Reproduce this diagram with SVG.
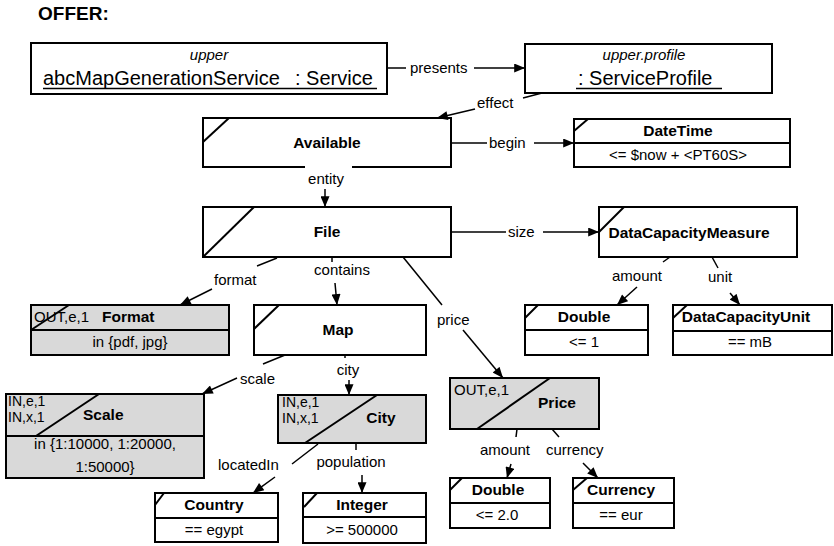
<svg xmlns="http://www.w3.org/2000/svg" width="834" height="546" viewBox="0 0 834 546">
<defs>
<marker id="ah" viewBox="0 0 12 10" refX="12" refY="5" markerWidth="12" markerHeight="9" markerUnits="userSpaceOnUse" orient="auto">
<path d="M0,0 L12,5 L0,10 z" fill="#000"/>
</marker>
<style>
text{font-family:"Liberation Sans",Arial,sans-serif;fill:#000}
.box{fill:#fff;stroke:#000;stroke-width:2}
.grey{fill:#d9d9d9;stroke:#000;stroke-width:2}
.ln{stroke:#000;stroke-width:2;fill:none}
.c{stroke:#000;stroke-width:1.5;fill:none}
.a{stroke:#000;stroke-width:1.5;fill:none;marker-end:url(#ah)}
.t{font-size:15.5px;font-weight:bold}
.r{font-size:15px}
.s{font-size:14px}
.l{font-size:15px}
.i{font-size:15px;font-style:italic}
.big{font-size:20px}
.m{text-anchor:middle}
</style>
</defs>
<text x="38" y="20" style="font-size:19px;font-weight:bold">OFFER:</text>

<g id="service">
<rect class="box" x="31" y="43" width="356" height="51"/>
<text class="i m" x="209" y="60">upper</text>
<text class="big" x="43" y="85">abcMapGenerationService</text>
<text class="big" x="295" y="85">: Service</text>
<line x1="43" y1="88.5" x2="377" y2="88.5" stroke="#000" stroke-width="1.3"/>
</g>
<g id="profile">
<rect class="box" x="525" y="44" width="247" height="49"/>
<text class="i m" x="644" y="60">upper.profile</text>
<text class="big" x="578" y="85">: ServiceProfile</text>
<line x1="576" y1="88.5" x2="722" y2="88.5" stroke="#000" stroke-width="1.3"/>
</g>
<g id="available">
<rect class="box" x="203" y="118" width="248" height="49"/>
<line class="ln" x1="203" y1="142" x2="229" y2="118"/>
<text class="t m" x="327" y="148">Available</text>
</g>
<g id="datetime">
<rect class="box" x="574" y="119" width="216" height="48"/>
<line class="ln" x1="574" y1="143" x2="790" y2="143"/>
<line class="ln" x1="574" y1="131" x2="588" y2="119"/>
<text class="t m" x="678" y="136">DateTime</text>
<text class="r m" x="678" y="160">&lt;= $now + &lt;PT60S&gt;</text>
</g>
<g id="file">
<rect class="box" x="203" y="207" width="248" height="50"/>
<line class="ln" x1="203" y1="257" x2="254" y2="207"/>
<text class="t m" x="327" y="237">File</text>
</g>
<g id="dcm">
<rect class="box" x="599" y="207" width="198" height="50"/>
<line class="ln" x1="599" y1="232" x2="624" y2="207"/>
<text class="t m" x="689" y="238">DataCapacityMeasure</text>
</g>
<g id="format">
<rect class="grey" x="31" y="305" width="198" height="50"/>
<line class="ln" x1="31" y1="330" x2="229" y2="330"/>
<line class="ln" x1="31" y1="330" x2="69" y2="305"/>
<text class="r" x="34" y="322">OUT,e,1</text>
<text class="t" x="102" y="322">Format</text>
<text class="r m" x="130" y="347">in {pdf, jpg}</text>
</g>
<g id="map">
<rect class="box" x="254" y="305" width="172" height="50"/>
<line class="ln" x1="254" y1="329" x2="279" y2="305"/>
<text class="t m" x="338" y="335">Map</text>
</g>
<g id="double1">
<rect class="box" x="525" y="305" width="123" height="50"/>
<line class="ln" x1="525" y1="330" x2="648" y2="330"/>
<line class="ln" x1="525" y1="318" x2="538" y2="305"/>
<text class="t m" x="584" y="322">Double</text>
<text class="r m" x="584" y="347">&lt;= 1</text>
</g>
<g id="dcu">
<rect class="box" x="673" y="305" width="159" height="50"/>
<line class="ln" x1="673" y1="331" x2="832" y2="331"/>
<line class="ln" x1="673" y1="318" x2="687" y2="305"/>
<text class="t m" x="746" y="322">DataCapacityUnit</text>
<text class="r m" x="750" y="347">== mB</text>
</g>
<g id="scale">
<rect class="grey" x="6" y="394" width="198" height="84"/>
<line class="ln" x1="6" y1="436" x2="204" y2="436"/>
<line class="ln" x1="36" y1="436" x2="99" y2="394"/>
<text class="s" x="8" y="406">IN,e,1</text>
<text class="s" x="8" y="422">IN,x,1</text>
<text class="t" x="83" y="420">Scale</text>
<text class="r m" x="105" y="449">in {1:10000, 1:20000,</text>
<text class="r m" x="105" y="472">1:50000}</text>
</g>
<g id="city">
<rect class="grey" x="278" y="395" width="148" height="48"/>
<line class="ln" x1="305" y1="443" x2="377" y2="395"/>
<text class="s" x="282" y="407">IN,e,1</text>
<text class="s" x="282" y="423">IN,x,1</text>
<text class="t m" x="381" y="423">City</text>
</g>
<g id="price">
<rect class="grey" x="450" y="378" width="149" height="51"/>
<line class="ln" x1="477" y1="429" x2="550" y2="378"/>
<text class="r" x="454" y="395">OUT,e,1</text>
<text class="t m" x="557" y="408">Price</text>
</g>
<g id="country">
<rect class="box" x="155" y="493" width="123" height="49"/>
<line class="ln" x1="155" y1="518" x2="278" y2="518"/>
<line class="ln" x1="155" y1="505" x2="164" y2="493"/>
<text class="t m" x="214" y="510">Country</text>
<text class="r m" x="214" y="535">== egypt</text>
</g>
<g id="integer">
<rect class="box" x="303" y="493" width="123" height="50"/>
<line class="ln" x1="303" y1="517" x2="426" y2="517"/>
<line class="ln" x1="304" y1="507" x2="317" y2="493"/>
<text class="t m" x="362" y="510">Integer</text>
<text class="r m" x="362" y="535">&gt;= 500000</text>
</g>
<g id="double2">
<rect class="box" x="450" y="478" width="100" height="50"/>
<line class="ln" x1="450" y1="503" x2="550" y2="503"/>
<line class="ln" x1="450" y1="490" x2="462" y2="478"/>
<text class="t m" x="498" y="495">Double</text>
<text class="r m" x="497" y="520">&lt;= 2.0</text>
</g>
<g id="currency">
<rect class="box" x="573" y="478" width="101" height="50"/>
<line class="ln" x1="573" y1="503" x2="674" y2="503"/>
<line class="ln" x1="573" y1="490" x2="587" y2="478"/>
<text class="t m" x="621" y="495">Currency</text>
<text class="r m" x="621" y="520">== eur</text>
</g>

<g id="connectors">
<line class="c" x1="387" y1="68" x2="406" y2="68"/>
<text class="l" x="410" y="73">presents</text>
<line class="a" x1="474" y1="68" x2="525" y2="68"/>

<line class="c" x1="542" y1="93" x2="523" y2="98"/>
<text class="l" x="477" y="108">effect</text>
<line class="a" x1="475" y1="109" x2="437" y2="118"/>

<line class="c" x1="451" y1="143" x2="487" y2="143"/>
<text class="l" x="489" y="148">begin</text>
<line class="a" x1="534" y1="143" x2="574" y2="143"/>

<rect x="305" y="165" width="47" height="22" fill="#fff"/>
<text class="l m" x="326" y="184">entity</text>
<line class="a" x1="325" y1="189" x2="325" y2="207"/>

<line class="c" x1="451" y1="232" x2="506" y2="232"/>
<text class="l" x="508" y="237">size</text>
<line class="a" x1="543" y1="232" x2="599" y2="232"/>

<line class="c" x1="277" y1="258" x2="257" y2="266"/>
<text class="l" x="214" y="285">format</text>
<line class="a" x1="212" y1="289" x2="180" y2="305"/>

<line class="c" x1="332" y1="258" x2="332" y2="262"/>
<text class="l m" x="342" y="275">contains</text>
<line class="a" x1="335" y1="283" x2="337" y2="305"/>

<line class="c" x1="403" y1="257" x2="442" y2="305"/>
<text class="l" x="437" y="325">price</text>
<line class="a" x1="463" y1="330" x2="503" y2="378"/>

<line class="c" x1="670" y1="257" x2="663" y2="262"/>
<text class="l" x="612" y="281">amount</text>
<line class="a" x1="637" y1="287" x2="617" y2="305"/>

<line class="c" x1="712" y1="257" x2="718" y2="268"/>
<text class="l" x="708" y="282">unit</text>
<line class="a" x1="730" y1="293" x2="740" y2="305"/>

<line class="c" x1="285" y1="355" x2="263" y2="364"/>
<text class="l" x="240" y="384">scale</text>
<line class="a" x1="237" y1="378" x2="202" y2="394"/>

<line class="c" x1="345" y1="355" x2="345" y2="358"/>
<text class="l m" x="348" y="375">city</text>
<line class="a" x1="349" y1="380" x2="349" y2="395"/>

<line class="c" x1="318" y1="444" x2="292" y2="464"/>
<text class="l" x="218" y="470">locatedIn</text>
<line class="a" x1="275" y1="477" x2="253" y2="493"/>

<line class="c" x1="356" y1="443" x2="356" y2="450"/>
<text class="l m" x="351" y="467">population</text>
<line class="a" x1="362" y1="475" x2="362" y2="493"/>

<line class="c" x1="517" y1="429" x2="516" y2="437"/>
<text class="l" x="480" y="455">amount</text>
<line class="a" x1="511" y1="464" x2="507" y2="478"/>

<line class="c" x1="552" y1="429" x2="559" y2="437"/>
<text class="l" x="546" y="455">currency</text>
<line class="a" x1="583" y1="463" x2="598" y2="478"/>
</g>
</svg>
